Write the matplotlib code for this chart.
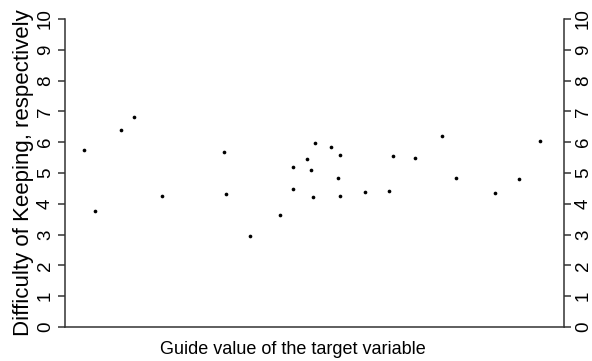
import matplotlib
matplotlib.use('Agg')
from matplotlib import pyplot as plt

plt.rcParams['font.family'] = ['Liberation Sans', 'DejaVu Sans']

# guide value (arbitrary units, no ticks shown) and difficulty of keeping
guide = [3.8, 6.0, 11.2, 13.8, 19.4, 31.8, 32.3, 37.0, 43.1, 45.7, 45.7,
         48.5, 49.3, 49.7, 50.1, 53.4, 54.7, 55.1, 55.1, 60.1, 64.9, 65.7,
         70.1, 75.5, 78.4, 86.2, 91.0, 95.2]
difficulty = [5.75, 3.77, 6.40, 6.81, 4.24, 5.67, 4.31, 2.97, 3.64, 5.21,
              4.49, 5.44, 5.09, 4.21, 5.97, 5.83, 4.83, 4.25, 5.60, 4.38,
              4.41, 5.56, 5.48, 6.19, 4.84, 4.35, 4.80, 6.04]

fig = plt.figure(figsize=(5.92, 3.61), dpi=100)
ax = fig.add_axes([65 / 592, 34 / 361, 499 / 592, 308 / 361])
ax.scatter(guide, difficulty, s=7, color='black', linewidths=0)

ax.set_xlim(0, 100)
ax.set_ylim(0, 10)
ax.set_xticks([])
ax.set_yticks(range(11))
ax.spines['top'].set_visible(False)
for side in ['left', 'right', 'bottom']:
    ax.spines[side].set_color('#333333')
    ax.spines[side].set_linewidth(1.1)
ax.tick_params(axis='y', which='both', left=True, right=True, labelleft=True,
               labelright=True, labelsize=13.5, length=5, width=1.1,
               color='#333333', labelrotation=90, pad=3)
ax.tick_params(axis='y', which='both', left=True, pad=5)
ax.tick_params(axis='y', which='both', right=True, pad=3)
for lab in ax.get_yticklabels():
    lab.set_va('center')

ax.set_ylabel('Difficulty of Keeping, respectively', fontsize=16, labelpad=2)
ax.set_xlabel('Guide value of the target variable', fontsize=13, labelpad=9)
ax.xaxis.set_label_coords(0.457, -0.045, transform=ax.transAxes)
ax.xaxis.label.set_va('top')

plt.savefig('out.png', dpi=100)
plt.close()
